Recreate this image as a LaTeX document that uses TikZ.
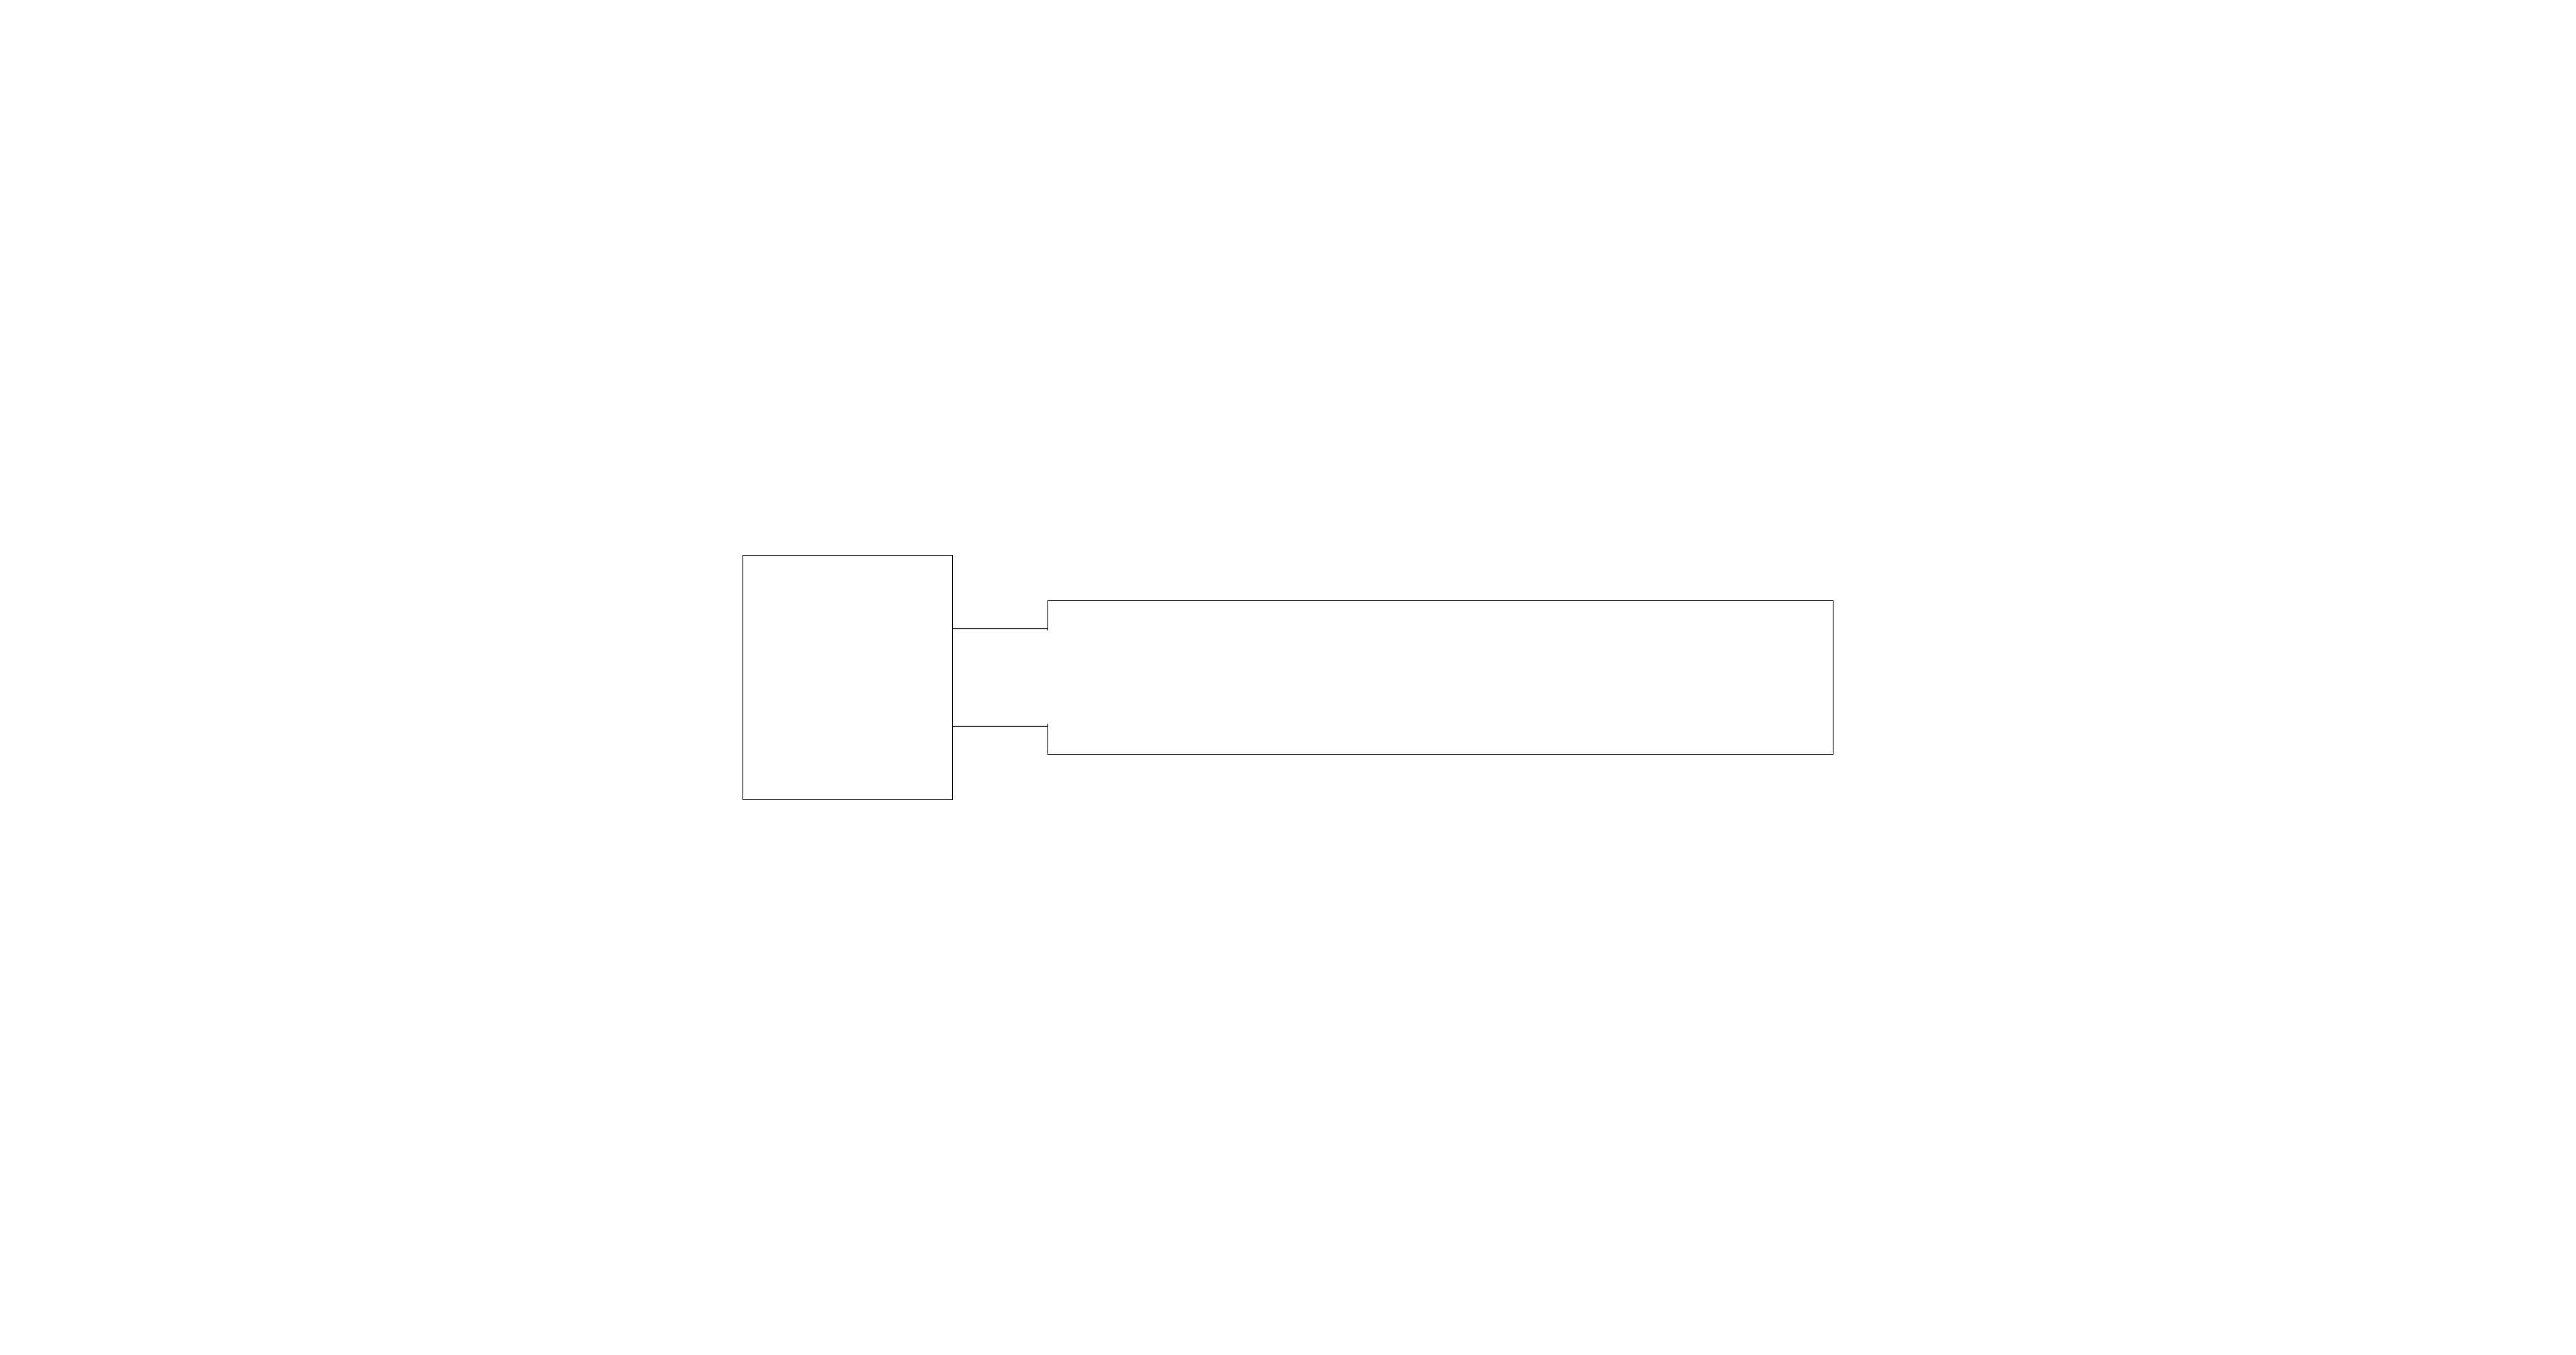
\documentclass[tikz,border=0pt]{standalone}
\usetikzlibrary{positioning}
\begin{document}
\begin{tikzpicture}[line width=0.5pt, body/.style={inner sep=0pt, outer sep=0pt}]
                \useasboundingbox (0,0) rectangle (50,26.29);
                \node[body, draw, minimum width=4.07cm, minimum height=4.74cm] (pump) at (16.455,13.14) {};
                \node[body, minimum width=15.24cm, minimum height=2.99cm, right=1.85cm of pump] (tank) {};
                \coordinate (inA) at ([yshift=0.945cm]tank.west);
                \coordinate (inB) at ([yshift=-0.945cm]tank.west);
                \draw (pump.east |- inA) -- (inA);
                \draw (pump.east |- inB) -- (inB);
                \draw ([yshift=-0.04cm]inA) -- (tank.north west) -- (tank.north east) -- (tank.south east) -- (tank.south west) -- ([yshift=0.04cm]inB);
            \end{tikzpicture}
\end{document}
